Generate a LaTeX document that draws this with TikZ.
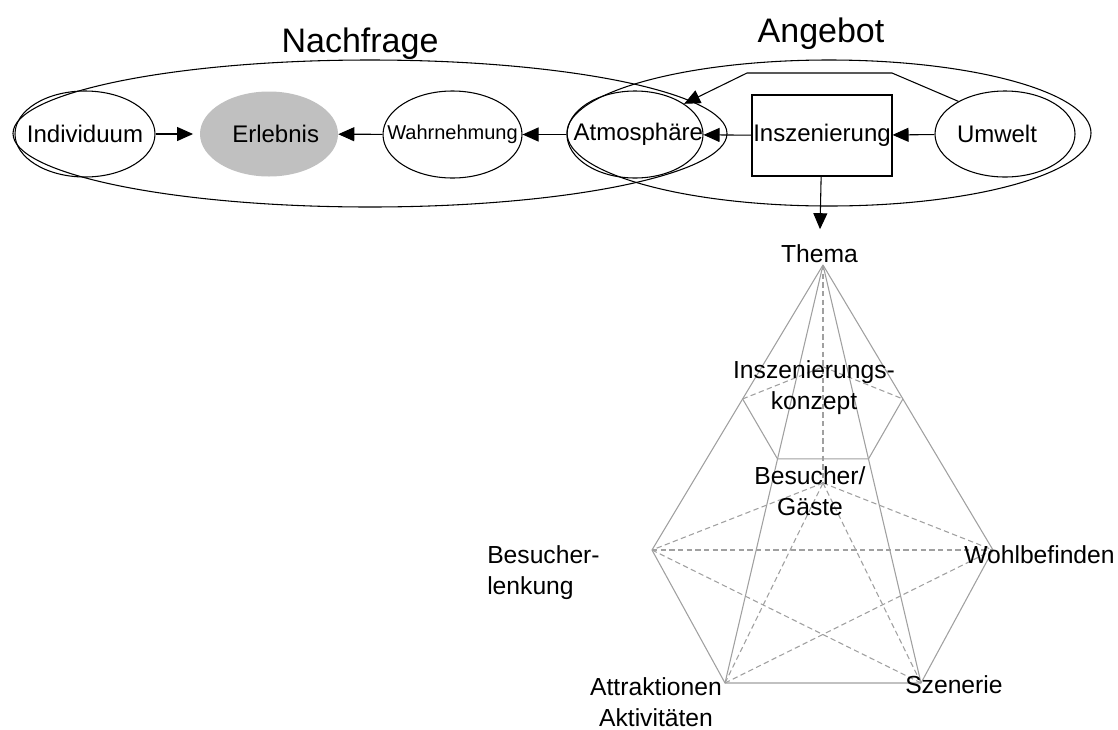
\documentclass[tikz,border=0pt]{standalone}
\usepackage{fontspec}
\setmainfont{Liberation Sans}
\usetikzlibrary{shapes.geometric,arrows.meta,calc}
\definecolor{pyrgray}{RGB}{160,160,160}
\definecolor{erlgray}{RGB}{192,192,192}
\begin{document}
\begin{tikzpicture}[x=0.75pt,y=-0.75pt,
  lbl/.style={font=\fontsize{18}{23.25}\selectfont, inner sep=0pt},
  plbl/.style={font=\fontsize{18.5}{23.25}\selectfont, inner sep=0pt},
  ttl/.style={font=\fontsize{25.5}{30}\selectfont, inner sep=0pt},
  ell/.style={ellipse, draw, line width=0.8pt, inner sep=0pt},
  arr/.style={-{Triangle[length=12pt,width=10.5pt]}, line width=0.8pt},
  pyr/.style={draw=pyrgray, line width=0.8pt},
  hid/.style={draw=pyrgray, line width=0.8pt, dash pattern=on 4pt off 2.5pt},
]
\useasboundingbox (0,0) rectangle (1118,729);

% big group ellipses
\node[ell, minimum width=535.5pt, minimum height=110.25pt] (nach) at (370,133.5) {};
\node[ell, minimum width=393pt, minimum height=109.5pt] (ang) at (829,133) {};
\node[ttl, anchor=base] (nachT) at (360,52) {Nachfrage};
\node[ttl, anchor=base] (angT) at (821,42) {Angebot};

% row nodes
\node[ell, minimum width=105pt, minimum height=64.5pt,
  label={[name=indT, lbl]center:Individuum}] (ind) at (85,134) {};
\node[ellipse, fill=erlgray, inner sep=0pt, minimum width=103.5pt, minimum height=63.75pt,
  label={[name=erlT, lbl, xshift=5pt]center:Erlebnis}] (erl) at (269,134) {};
\node[ell, minimum width=104.25pt, minimum height=65.25pt,
  label={[name=wahrT, inner sep=0pt, font=\fontsize{15}{18}\selectfont]center:Wahrnehmung}] (wahr) at (452.5,134.5) {};
\node[ell, minimum width=102pt, minimum height=65.25pt,
  label={[name=atmT, lbl, xshift=2.5pt]center:Atmosphäre}] (atm) at (635,134.5) {};
\node[draw, line width=0.8pt, inner sep=0pt, minimum width=105pt, minimum height=60.75pt,
  font=\fontsize{18}{22}\selectfont] (insz) at (822,135.5) {Inszenierung};
\node[ell, minimum width=105pt, minimum height=64.5pt,
  label={[name=umwT, lbl, xshift=-6pt]center:Umwelt}] (umw) at (1005,134) {};

% arrows
\draw[arr, shorten >=5pt] (ind) -- (erl);
\draw[arr] (wahr) -- (erl);
\draw[arr] (atm) -- (wahr);
\draw[arr] (insz) -- (atm);
\draw[arr] (umw) -- (insz);
\coordinate (c1) at (892,73);
\coordinate (c2) at (747,73);
\draw[arr] (umw.145) -- (c1) -- (c2) -- (atm.32);

% pyramid
\coordinate (T) at (823,265);
\coordinate (G) at (823,483);
\coordinate (BL) at (652,550);
\coordinate (W) at (993,550);
\coordinate (A) at (725,683);
\coordinate (S) at (921,683);
\coordinate (KL) at ($(T)!0.47!(BL)$);
\coordinate (KR) at ($(T)!0.47!(W)$);
\coordinate (KFL) at ($(T)!0.464!(A)$);
\coordinate (KFR) at ($(T)!0.464!(S)$);
\coordinate (KB) at ($(T)!0.467!(G)$);

\draw[hid] (T) -- (G);
\draw[hid] (G) -- (BL);
\draw[hid] (G) -- (W);
\draw[hid] (BL) -- (W);
\draw[hid] (BL) -- (S);
\draw[hid] (A) -- (W);
\draw[hid] (A) -- (G);
\draw[hid] (G) -- (S);
\draw[hid] (KL) -- (KB) -- (KR);
\draw[pyr] (T) -- (BL);
\draw[pyr] (T) -- (W);
\draw[pyr] (T) -- (A);
\draw[pyr] (T) -- (S);
\draw[pyr] (BL) -- (A) -- (S) -- (W);
\draw[pyr] (KL) -- (KFL) -- (KFR) -- (KR);

% pyramid labels (base anchor = last line baseline)
\node[plbl, anchor=base] (thema) at (819.5,262) {Thema};
\draw[arr, shorten >=11pt] (insz) -- (thema);
\node[plbl, anchor=base, align=center] (ikon) at (814,409) {Inszenierungs-\\konzept};
\node[plbl, anchor=base, align=center] (gast) at (810,515) {Besucher/\\Gäste};
\node[plbl, anchor=base west, align=left] (lenk) at (487,594) {Besucher-\\lenkung};
\node[plbl, anchor=base west] (wohl) at (964,563) {Wohlbefinden};
\node[plbl, anchor=base, align=center] (attr) at (656,726) {Attraktionen\\Aktivitäten};
\node[plbl, anchor=base west] (szen) at (905,693) {Szenerie};
\end{tikzpicture}
\end{document}
